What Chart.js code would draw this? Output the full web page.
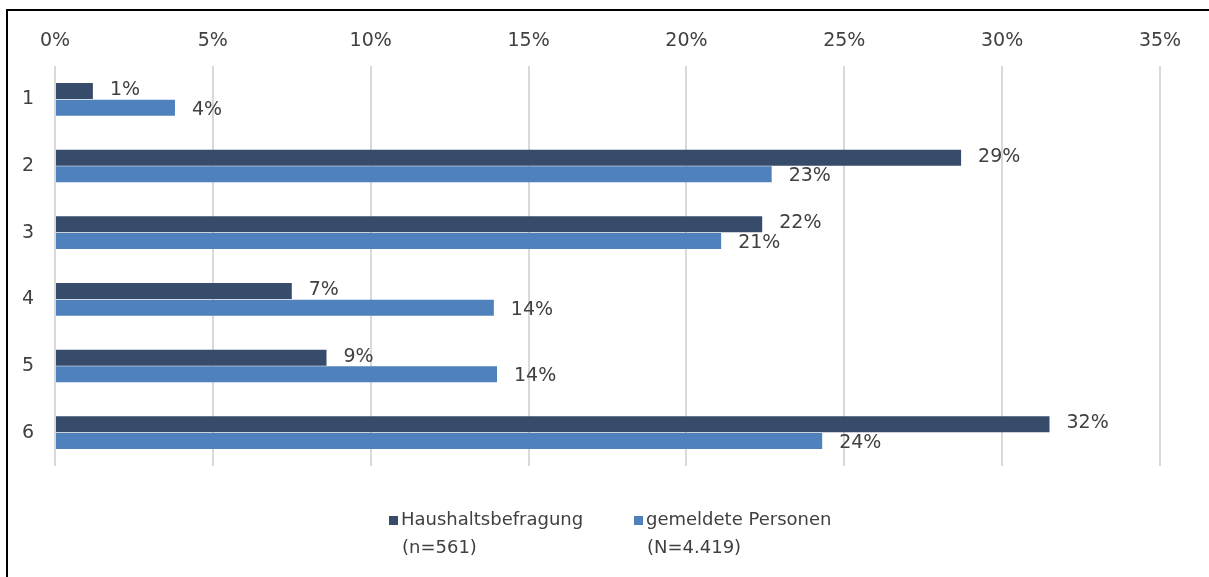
<!DOCTYPE html>
<html>
<head>
<meta charset="utf-8">
<script src="https://cdn.jsdelivr.net/npm/chart.js@4/dist/chart.umd.min.js"></script>
<style>
  html, body { margin: 0; padding: 0; background: #fff; }
  #wrap { position: relative; width: 1209px; height: 577px; }
</style>
</head>
<body>
<div id="wrap"><canvas id="barChart" width="1209" height="577"></canvas></div>
<script>
const categories = ["1", "2", "3", "4", "5", "6"];
const haushalt = [1.2, 28.7, 22.4, 7.5, 8.6, 31.5];
const gemeldet = [3.8, 22.7, 21.1, 13.9, 14.0, 24.3];
const seriesNames = ["Haushaltsbefragung", "gemeldete Personen"];
const seriesNotes = ["(n=561)", "(N=4.419)"];
const labelHaushalt = ["1%", "29%", "22%", "7%", "9%", "32%"];
const labelGemeldet = ["4%", "23%", "21%", "14%", "14%", "24%"];

const FONT = "'DejaVu Sans', sans-serif";
const TEXT = "#404040";

// border frame (top + left, rest cropped)
const framePlugin = {
  id: "frame",
  afterDraw(chart) {
    const ctx = chart.ctx;
    ctx.save();
    ctx.strokeStyle = "#000";
    ctx.lineWidth = 2;
    ctx.beginPath();
    ctx.moveTo(1220, 10);
    ctx.lineTo(7, 10);
    ctx.lineTo(7, 590);
    ctx.stroke();
    ctx.restore();
  }
};

// value labels right of bars
const valueLabels = {
  id: "valueLabels",
  afterDatasetsDraw(chart) {
    const ctx = chart.ctx;
    const texts = [labelHaushalt, labelGemeldet];
    const dy = [-1, 2];
    ctx.save();
    ctx.font = "19px " + FONT;
    ctx.fillStyle = TEXT;
    ctx.textAlign = "left";
    ctx.textBaseline = "middle";
    chart.data.datasets.forEach((ds, i) => {
      chart.getDatasetMeta(i).data.forEach((bar, j) => {
        ctx.fillText(texts[i][j], bar.x + 17, bar.y + dy[i]);
      });
    });
    ctx.restore();
  }
};

// two-line legend at the bottom
const legendPlugin = {
  id: "twoLineLegend",
  afterDraw(chart) {
    const ctx = chart.ctx;
    const xs = [389, 634];
    ctx.save();
    ctx.font = "18px " + FONT;
    ctx.textBaseline = "middle";
    ctx.textAlign = "left";
    chart.data.datasets.forEach((ds, i) => {
      ctx.fillStyle = ds.backgroundColor;
      ctx.fillRect(xs[i], 516, 9, 9);
      ctx.fillStyle = TEXT;
      ctx.fillText(seriesNames[i], xs[i] + 12, 520);
      ctx.fillText(seriesNotes[i], xs[i] + 13, 548);
    });
    ctx.restore();
  }
};

new Chart(document.getElementById("barChart"), {
  type: "bar",
  data: {
    labels: categories,
    datasets: [
      { label: seriesNames[0], data: haushalt, backgroundColor: "#374B6A" },
      { label: seriesNames[1], data: gemeldet, backgroundColor: "#4F81BD" }
    ]
  },
  options: {
    indexAxis: "y",
    responsive: false,
    animation: false,
    layout: { padding: { left: 10, top: 12, right: 49, bottom: 111 } },
    datasets: { bar: { categoryPercentage: 0.5, barPercentage: 0.96 } },
    plugins: {
      legend: { display: false },
      tooltip: { enabled: false }
    },
    scales: {
      x: {
        position: "top",
        min: 0,
        max: 35,
        afterFit: s => { s.height = 54; },
        ticks: {
          stepSize: 5,
          padding: 14,
          color: TEXT,
          font: { family: FONT, size: 19 },
          callback: v => v + "%"
        },
        grid: { color: "#d9d9d9", lineWidth: 2, drawTicks: false },
        border: { display: false }
      },
      y: {
        afterFit: s => { s.width = 45; },
        ticks: {
          padding: 13,
          color: TEXT,
          font: { family: FONT, size: 19 }
        },
        grid: { display: false },
        border: { display: false }
      }
    }
  },
  plugins: [framePlugin, valueLabels, legendPlugin]
});
</script>
</body>
</html>
